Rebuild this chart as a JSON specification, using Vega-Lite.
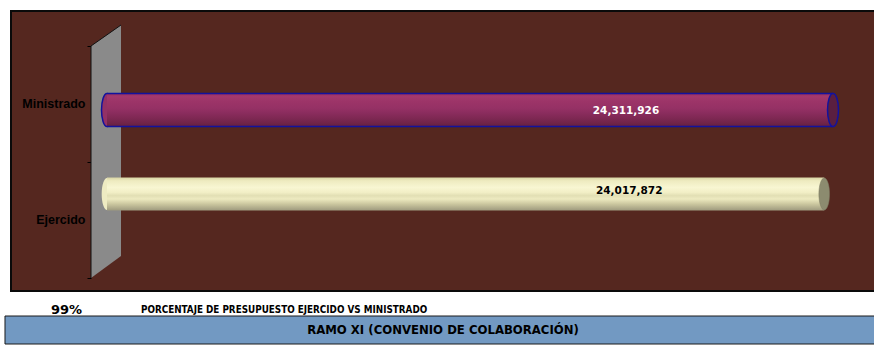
{
  "$schema": "https://vega.github.io/schema/vega-lite/v6.json",
  "background": "white",
  "padding": {"left": 4, "top": 4, "right": 0, "bottom": 0},
  "columns": 1,
  "spacing": 0,
  "bounds": "flush",
  "datasets": {
    "presupuesto": [
      {"concepto": "Ministrado", "monto": 24311926},
      {"concepto": "Ejercido", "monto": 24017872}
    ],
    "pared": [
      {"px": -535790, "arriba": 0.875, "abajo": 0.0464},
      {"px": 468816, "arriba": 0.95, "abajo": 0.125}
    ],
    "bordePared": [
      {"orden": 1, "px": -535790, "py": 0.0464},
      {"orden": 2, "px": -535790, "py": 0.875},
      {"orden": 3, "px": 468816, "py": 0.95}
    ],
    "pie": [
      {"clase": "pct", "texto": "99%"},
      {"clase": "desc", "texto": "PORCENTAJE DE PRESUPUESTO EJERCIDO VS MINISTRADO"}
    ],
    "titulo": [
      {"texto": "RAMO XI (CONVENIO DE COLABORACIÓN)", "desde": 0, "hasta": 1}
    ]
  },
  "concat": [
    {
      "width": 864,
      "height": 280,
      "view": {"fill": "#55271F", "stroke": "#0a0a0a", "strokeWidth": 2},
      "resolve": {"scale": {"y": "independent"}, "axis": {"y": "independent"}},
      "layer": [
        {
          "data": {"name": "pared"},
          "mark": {"type": "area", "fill": "#8A8A8A", "opacity": 1},
          "encoding": {
            "x": {"field": "px", "type": "quantitative", "scale": {"domain": [-3214800, 25718000], "nice": false}, "axis": null},
            "y": {"field": "arriba", "type": "quantitative", "scale": {"domain": [0, 1], "nice": false}, "axis": null},
            "y2": {"field": "abajo"}
          }
        },
        {
          "data": {"name": "bordePared"},
          "mark": {"type": "line", "color": "#111111", "strokeWidth": 1},
          "encoding": {
            "x": {"field": "px", "type": "quantitative", "scale": {"domain": [-3214800, 25718000], "nice": false}, "axis": null},
            "y": {"field": "py", "type": "quantitative", "scale": {"domain": [0, 1], "nice": false}, "axis": null},
            "order": {"field": "orden", "type": "quantitative"}
          }
        },
        {
          "data": {"name": "presupuesto"},
          "mark": {"type": "point", "opacity": 0},
          "encoding": {
            "x": {"datum": 0, "type": "quantitative", "scale": {"domain": [-3214800, 25718000], "nice": false}, "axis": null},
            "y": {"field": "concepto", "type": "nominal",
                  "scale": {"type": "band", "domain": ["Ministrado", "Ejercido"], "paddingInner": 0, "paddingOuter": 0.2069, "align": 0.729},
                  "axis": {"orient": "left", "offset": -80, "title": null, "domain": false, "grid": false, "ticks": true, "tickBand": "extent", "tickSize": 4, "tickColor": "#000000", "tickWidth": 1, "labelPadding": 2, "labelFont": "Liberation Sans", "labelFontWeight": "bold", "labelFontSize": 12.5, "labelColor": "#000000"}}
          }
        },
        {
          "data": {"name": "presupuesto"},
          "layer": [
            {
              "transform": [{"filter": "datum.concepto === 'Ministrado'"}],
              "mark": {"type": "point", "shape": "M0,-1C0.184,-1,0.333,-0.552,0.333,0C0.333,0.552,0.184,1,0,1C-0.184,1,-0.333,0.552,-0.333,0C-0.333,-0.552,-0.184,-1,0,-1Z", "size": 1089, "filled": true, "fill": "#933165", "stroke": "#12129E", "strokeWidth": 1.5, "opacity": 1},
              "encoding": {
                "x": {"datum": 0, "type": "quantitative", "scale": {"domain": [-3214800, 25718000], "nice": false}, "axis": null},
                "y": {"field": "concepto", "type": "nominal", "scale": {"type": "band", "domain": ["Ministrado", "Ejercido"], "paddingInner": 0.607, "paddingOuter": 0.97, "align": 0.506}, "axis": null}
              }
            },
            {
              "transform": [{"filter": "datum.concepto === 'Ejercido'"}],
              "mark": {"type": "point", "shape": "M0,-1C0.184,-1,0.333,-0.552,0.333,0C0.333,0.552,0.184,1,0,1C-0.184,1,-0.333,0.552,-0.333,0C-0.333,-0.552,-0.184,-1,0,-1Z", "size": 1024, "filled": true, "fill": "#EEEBC2", "strokeWidth": 0, "opacity": 1},
              "encoding": {
                "x": {"datum": 0, "type": "quantitative", "scale": {"domain": [-3214800, 25718000], "nice": false}, "axis": null},
                "y": {"field": "concepto", "type": "nominal", "scale": {"type": "band", "domain": ["Ministrado", "Ejercido"], "paddingInner": 0.607, "paddingOuter": 0.97, "align": 0.506}, "axis": null}
              }
            },
            {
              "transform": [{"filter": "datum.concepto === 'Ministrado'"}],
              "mark": {"type": "bar", "fill": {"gradient": "linear", "x1": 0, "y1": 0, "x2": 0, "y2": 1, "stops": [
                {"offset": 0, "color": "#8E2E5E"}, {"offset": 0.08, "color": "#A4396D"}, {"offset": 0.25, "color": "#9C3468"},
                {"offset": 0.45, "color": "#953165"}, {"offset": 0.6, "color": "#8A2C5D"}, {"offset": 0.75, "color": "#7E2853"},
                {"offset": 0.9, "color": "#702449"}, {"offset": 1, "color": "#632041"}]}},
              "encoding": {
                "x": {"field": "monto", "type": "quantitative", "scale": {"domain": [-3214800, 25718000], "nice": false}, "axis": null},
                "x2": {"datum": 0},
                "y": {"field": "concepto", "type": "nominal", "scale": {"type": "band", "domain": ["Ministrado", "Ejercido"], "paddingInner": 0.607, "paddingOuter": 0.97, "align": 0.506}, "axis": null}
              }
            },
            {
              "transform": [{"filter": "datum.concepto === 'Ministrado'"}],
              "mark": {"type": "rule", "color": "#12129E", "strokeWidth": 1.5},
              "encoding": {
                "x": {"field": "monto", "type": "quantitative", "scale": {"domain": [-3214800, 25718000], "nice": false}, "axis": null},
                "x2": {"datum": 0},
                "y": {"field": "concepto", "type": "nominal", "bandPosition": 0, "scale": {"type": "band", "domain": ["Ministrado", "Ejercido"], "paddingInner": 0.607, "paddingOuter": 0.97, "align": 0.506}, "axis": null}
              }
            },
            {
              "transform": [{"filter": "datum.concepto === 'Ministrado'"}],
              "mark": {"type": "rule", "color": "#12129E", "strokeWidth": 1.5},
              "encoding": {
                "x": {"field": "monto", "type": "quantitative", "scale": {"domain": [-3214800, 25718000], "nice": false}, "axis": null},
                "x2": {"datum": 0},
                "y": {"field": "concepto", "type": "nominal", "bandPosition": 1, "scale": {"type": "band", "domain": ["Ministrado", "Ejercido"], "paddingInner": 0.607, "paddingOuter": 0.97, "align": 0.506}, "axis": null}
              }
            },
            {
              "transform": [{"filter": "datum.concepto === 'Ministrado'"}],
              "mark": {"type": "point", "shape": "M0,-1C0.184,-1,0.333,-0.552,0.333,0C0.333,0.552,0.184,1,0,1C-0.184,1,-0.333,0.552,-0.333,0C-0.333,-0.552,-0.184,-1,0,-1Z", "size": 1089, "filled": true, "fill": "#5A1F40", "stroke": "#12129E", "strokeWidth": 1.5, "opacity": 1},
              "encoding": {
                "x": {"field": "monto", "type": "quantitative", "scale": {"domain": [-3214800, 25718000], "nice": false}, "axis": null},
                "y": {"field": "concepto", "type": "nominal", "scale": {"type": "band", "domain": ["Ministrado", "Ejercido"], "paddingInner": 0.607, "paddingOuter": 0.97, "align": 0.506}, "axis": null}
              }
            },
            {
              "transform": [{"filter": "datum.concepto === 'Ejercido'"}],
              "mark": {"type": "bar", "fill": {"gradient": "linear", "x1": 0, "y1": 0, "x2": 0, "y2": 1, "stops": [
                {"offset": 0, "color": "#D8D4A4"}, {"offset": 0.1, "color": "#EEEBC0"}, {"offset": 0.3, "color": "#F8F6D2"},
                {"offset": 0.45, "color": "#F2EFC6"}, {"offset": 0.55, "color": "#E2DFB4"}, {"offset": 0.65, "color": "#EDEAC0"},
                {"offset": 0.8, "color": "#CCC8A0"}, {"offset": 0.9, "color": "#B5B18F"}, {"offset": 1, "color": "#9E9A7E"}]}},
              "encoding": {
                "x": {"field": "monto", "type": "quantitative", "scale": {"domain": [-3214800, 25718000], "nice": false}, "axis": null},
                "x2": {"datum": 0},
                "y": {"field": "concepto", "type": "nominal", "scale": {"type": "band", "domain": ["Ministrado", "Ejercido"], "paddingInner": 0.607, "paddingOuter": 0.97, "align": 0.506}, "axis": null}
              }
            },
            {
              "transform": [{"filter": "datum.concepto === 'Ejercido'"}],
              "mark": {"type": "point", "shape": "M0,-1C0.184,-1,0.333,-0.552,0.333,0C0.333,0.552,0.184,1,0,1C-0.184,1,-0.333,0.552,-0.333,0C-0.333,-0.552,-0.184,-1,0,-1Z", "size": 1024, "filled": true, "fill": "#8C8B6F", "stroke": "#7A7960", "strokeWidth": 0.5, "opacity": 1},
              "encoding": {
                "x": {"field": "monto", "type": "quantitative", "scale": {"domain": [-3214800, 25718000], "nice": false}, "axis": null},
                "y": {"field": "concepto", "type": "nominal", "scale": {"type": "band", "domain": ["Ministrado", "Ejercido"], "paddingInner": 0.607, "paddingOuter": 0.97, "align": 0.506}, "axis": null}
              }
            },
            {
              "transform": [{"filter": "datum.concepto === 'Ministrado'"}],
              "mark": {"type": "text", "font": "DejaVu Sans", "fontWeight": "bold", "fontSize": 10.5, "dx": -207, "dy": 1, "align": "center", "baseline": "middle", "color": "#FFFFFF"},
              "encoding": {
                "x": {"field": "monto", "type": "quantitative", "scale": {"domain": [-3214800, 25718000], "nice": false}, "axis": null},
                "y": {"field": "concepto", "type": "nominal", "scale": {"type": "band", "domain": ["Ministrado", "Ejercido"], "paddingInner": 0.607, "paddingOuter": 0.97, "align": 0.506}, "axis": null},
                "text": {"field": "monto", "type": "quantitative", "format": ",.0f"}
              }
            },
            {
              "transform": [{"filter": "datum.concepto === 'Ejercido'"}],
              "mark": {"type": "text", "font": "DejaVu Sans", "fontWeight": "bold", "fontSize": 10.5, "dx": -195, "dy": -3, "align": "center", "baseline": "middle", "color": "#000000"},
              "encoding": {
                "x": {"field": "monto", "type": "quantitative", "scale": {"domain": [-3214800, 25718000], "nice": false}, "axis": null},
                "y": {"field": "concepto", "type": "nominal", "scale": {"type": "band", "domain": ["Ministrado", "Ejercido"], "paddingInner": 0.607, "paddingOuter": 0.97, "align": 0.506}, "axis": null},
                "text": {"field": "monto", "type": "quantitative", "format": ",.0f"}
              }
            }
          ]
        }
      ]
    },
    {
      "width": 270,
      "height": 25,
      "view": {"stroke": null},
      "data": {"name": "pie"},
      "layer": [
        {
          "transform": [{"filter": "datum.clase === 'pct'"}],
          "mark": {"type": "text", "font": "DejaVu Sans", "fontWeight": "bold", "fontSize": 13, "align": "left", "baseline": "middle", "dy": 6.5, "color": "#000000"},
          "encoding": {
            "x": {"field": "texto", "type": "nominal", "bandPosition": 0, "scale": {"type": "band", "domain": ["99%", "PORCENTAJE DE PRESUPUESTO EJERCIDO VS MINISTRADO"], "paddingInner": 0, "paddingOuter": 0.5, "align": 0.444}, "axis": null},
            "text": {"field": "texto"}
          }
        },
        {
          "transform": [{"filter": "datum.clase === 'desc'"}],
          "mark": {"type": "text", "font": "DejaVu Sans Condensed", "fontWeight": "bold", "fontSize": 9.8, "align": "left", "baseline": "middle", "dy": 6.5, "color": "#000000"},
          "encoding": {
            "x": {"field": "texto", "type": "nominal", "bandPosition": 0, "scale": {"type": "band", "domain": ["99%", "PORCENTAJE DE PRESUPUESTO EJERCIDO VS MINISTRADO"], "paddingInner": 0, "paddingOuter": 0.5, "align": 0.444}, "axis": null},
            "text": {"field": "texto"}
          }
        }
      ]
    },
    {
      "width": 864,
      "height": 28,
      "view": {"stroke": null},
      "data": {"name": "titulo"},
      "layer": [
        {
          "mark": {"type": "rect", "fill": "#7299C2", "stroke": "#1a1a1a", "strokeWidth": 1, "clip": false},
          "encoding": {
            "x": {"field": "desde", "type": "quantitative", "scale": {"domain": [0.0069, 1], "nice": false, "zero": false}, "axis": null},
            "x2": {"field": "hasta"}
          }
        },
        {
          "mark": {"type": "text", "font": "DejaVu Sans Condensed", "fontWeight": "bold", "fontSize": 13, "align": "center", "baseline": "middle", "color": "#000000"},
          "encoding": {
            "text": {"field": "texto"}
          }
        }
      ]
    }
  ],
  "config": {
    "view": {"stroke": null},
    "axis": {"grid": false}
  }
}
